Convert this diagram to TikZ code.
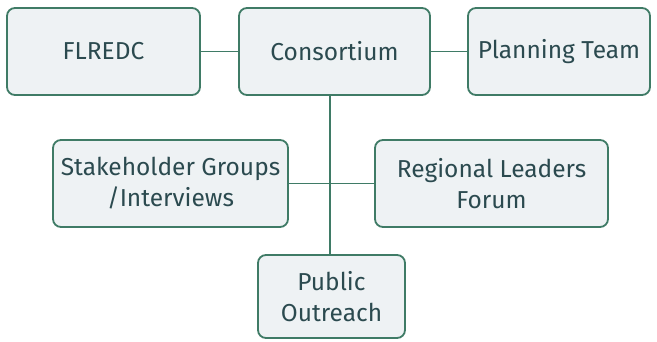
\documentclass[tikz,border=0pt]{standalone}
\usepackage{fontspec}
\setmainfont{Fira Sans}
\definecolor{bordergreen}{HTML}{3F7B66}
\definecolor{boxfill}{HTML}{EEF2F4}
\definecolor{txt}{HTML}{2B4A4F}
\begin{document}
\begin{tikzpicture}[x=1pt,y=-1pt,
  box/.style={draw=bordergreen,line width=1.8pt,fill=boxfill,rounded corners=8pt,
    text=txt,font=\fontsize{24.5}{31}\selectfont,align=center,inner sep=0pt},
  link/.style={draw=bordergreen,line width=1.8pt}]
\useasboundingbox (0,0) rectangle (657,341);
\node[box,minimum width=193pt,minimum height=87pt] (fl) at (103.5,51.5) {FLREDC};
\node[box,minimum width=191pt,minimum height=87pt] (co) at (334.5,51.5) {Consortium};
\node[box,minimum width=182pt,minimum height=87pt] (pt) at (559,51.5) {Planning Team};
\node[box,minimum width=235pt,minimum height=87pt] (sh) at (170.5,183.5) {Stakeholder Groups\\/Interviews};
\node[box,minimum width=233pt,minimum height=87pt] (rl) at (491.5,183.5) {Regional Leaders\\Forum};
\node[box,minimum width=147pt,minimum height=83pt] (po) at (331.5,296.5) {Public\\Outreach};
\coordinate (j) at (330,183.5);
\draw[link] (fl) -- (co);
\draw[link] (co) -- (pt);
\draw[link] (co.south -| j) -- (po.north -| j);
\draw[link] (sh.east) -- (j);
\draw[link] (j) -- (rl.west);
\end{tikzpicture}
\end{document}
